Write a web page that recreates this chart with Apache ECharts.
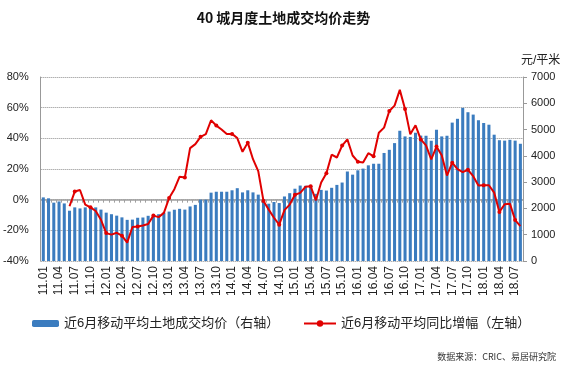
<!DOCTYPE html>
<html>
<head>
<meta charset="utf-8">
<script src="https://cdn.jsdelivr.net/npm/echarts@6/dist/echarts.min.js"></script>
<style>html,body{margin:0;padding:0;background:#fff}#c{width:567px;height:366px}</style>
</head>
<body>
<div id="c"></div>
<script>
// Month labels 11.01 … 18.08
var categories = [];
for (var y = 11; y <= 18; y++) {
  for (var m = 1; m <= 12; m++) {
    if (y === 18 && m > 8) break;
    categories.push(y + '.' + (m < 10 ? '0' + m : m));
  }
}
// 近6月移动平均土地成交均价 (元/平米, right axis)
var priceValues = [
  2420, 2385, 2220, 2265, 2190, 1913, 2040, 2000, 2040, 2075, 2040, 1955,
  1840, 1780, 1725, 1660, 1565, 1575, 1645, 1655, 1720, 1750, 1780, 1840,
  1880, 1950, 1985, 1955, 2075, 2135, 2335, 2335, 2600, 2635, 2635, 2635,
  2690, 2770, 2610, 2690, 2610, 2525, 2350, 2180, 2245, 2205, 2455, 2580,
  2750, 2870, 2860, 2870, 2555, 2705, 2680, 2785, 2895, 2985, 3405, 3285,
  3450, 3515, 3640, 3700, 3700, 4110, 4230, 4485, 4955, 4740, 4720, 4880,
  4770, 4765, 4575, 4995, 4740, 4765, 5265, 5410, 5825, 5660, 5570, 5355,
  5250, 5185, 4805, 4595, 4580, 4610, 4580, 4460
];
// 近6月移动平均同比增幅 (%, left axis)
var yoyValues = [
  null, null, null, null, null, -4.3, 5.3, 6.3, -3.2, -5.0, -7.4, -13.1,
  -21.8, -22.8, -21.6, -23.5, -28.0, -17.8, -17.5, -16.8, -15.9, -10.4, -11.4, -8.6,
  1.1, 6.8, 15.0, 14.4, 33.6, 36.2, 41.0, 42.7, 51.8, 48.3, 45.8, 42.8,
  42.9, 40.2, 31.2, 37.2, 26.4, 18.6, -0.8, -6.5, -11.8, -16.3, -6.8, -3.2,
  3.2, 4.4, 8.4, 8.7, -0.4, 11.2, 17.2, 29.3, 27.5, 35.3, 39.3, 28.8,
  24.8, 24.3, 30.3, 28.3, 43.6, 47.0, 57.8, 61.3, 71.6, 59.2, 42.6, 48.5,
  39.3, 35.4, 26.2, 34.6, 28.9, 15.7, 24.1, 19.9, 18.0, 19.5, 15.3, 9.3,
  9.4, 9.4, 4.6, -8.0, -3.0, -2.6, -13.3, -17.3
];
var leftTicks = {min: -40, max: 80, interval: 20};
var rightTicks = {min: 0, max: 7000, interval: 1000};
var seriesNames = ['近6月移动平均土地成交均价（右轴）', '近6月移动平均同比增幅（左轴）'];

var chart = echarts.init(document.getElementById('c'), null, {renderer: 'canvas'});
var font = 'Arial, "Liberation Sans", "Noto Sans CJK SC", sans-serif';
chart.setOption({
  animation: false,
  backgroundColor: '#fff',
  title: [{
    text: '40 城月度土地成交均价走势',
    left: 'center', top: 6,
    textStyle: {fontFamily: '"Noto Sans CJK SC", serif', fontSize: 14, fontWeight: 'bold', color: '#111'}
  }, {
    text: '数据来源：CRIC、易居研究院',
    right: 6, top: 347,
    textStyle: {fontFamily: '"Noto Sans CJK SC", sans-serif', fontSize: 9, fontWeight: 'normal', color: '#333'}
  }],
  grid: {left: 40, right: 44, top: 77, bottom: 105, containLabel: false},
  legend: [{
    data: [seriesNames[0]], left: 27, top: 312,
    itemWidth: 27, itemHeight: 7,
    textStyle: {fontFamily: font, fontSize: 13, color: '#222'}
  }, {
    data: [seriesNames[1]], left: 298, top: 312,
    itemWidth: 32, itemHeight: 8,
    textStyle: {fontFamily: font, fontSize: 13, color: '#222'}
  }],
  xAxis: [{
    type: 'category', data: categories, position: 'bottom',
    axisLine: {show: false, onZero: false},
    axisTick: {show: false},
    axisLabel: {rotate: 90, interval: 2, fontSize: 12, margin: 5, color: '#222', fontFamily: font},
    splitLine: {show: false}
  }, {
    type: 'category', data: categories, position: 'bottom',
    axisLine: {show: true, onZero: true, onZeroAxisIndex: 0, lineStyle: {color: '#a0a0a0', width: 1.5}},
    axisTick: {show: true, interval: 0, length: 3, lineStyle: {color: '#a0a0a0'}},
    axisLabel: {show: false},
    splitLine: {show: false}
  }],
  yAxis: [{
    type: 'value', position: 'left',
    min: leftTicks.min, max: leftTicks.max, interval: leftTicks.interval,
    axisLine: {show: true, lineStyle: {color: '#999'}},
    axisTick: {show: false},
    axisLabel: {formatter: '{value}%', fontSize: 11, margin: 12, color: '#222', fontFamily: font},
    splitLine: {show: true, lineStyle: {type: 'dotted', color: '#8c8c8c', width: 1}}
  }, {
    type: 'value', position: 'right',
    min: rightTicks.min, max: rightTicks.max, interval: rightTicks.interval,
    name: '元/平米', nameLocation: 'end', nameGap: 10,
    nameTextStyle: {fontFamily: font, fontSize: 12, color: '#222', align: 'left', padding: [0, 0, 0, -2]},
    axisLine: {show: true, lineStyle: {color: '#999'}},
    axisTick: {show: true, inside: false, length: 4, lineStyle: {color: '#999'}},
    axisLabel: {fontSize: 11, margin: 8, color: '#222', fontFamily: font,
      formatter: function (v) { return String(v); }},
    splitLine: {show: false}
  }],
  series: [{
    name: seriesNames[0], type: 'bar', data: priceValues,
    xAxisIndex: 0, yAxisIndex: 1, barWidth: '58%',
    itemStyle: {color: '#3b7cbf'}
  }, {
    name: seriesNames[1], type: 'line', data: yoyValues,
    xAxisIndex: 0, yAxisIndex: 0, z: 5,
    symbol: 'circle', symbolSize: 4, showSymbol: true,
    lineStyle: {color: '#e00000', width: 2},
    itemStyle: {color: '#e00000'}
  }]
});
</script>
</body>
</html>
